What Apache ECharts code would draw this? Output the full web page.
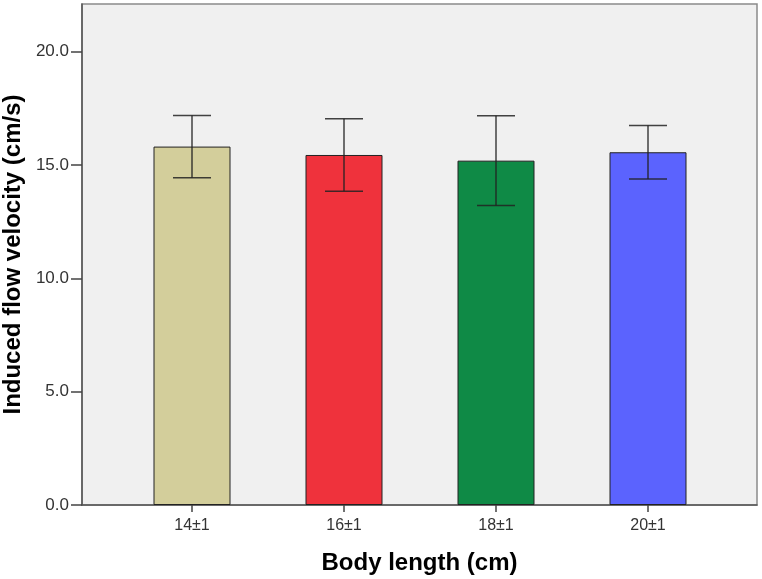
<!DOCTYPE html>
<html>
<head>
<meta charset="utf-8">
<script src="https://cdn.jsdelivr.net/npm/echarts@6/dist/echarts.min.js"></script>
<style>
html, body { margin: 0; padding: 0; background: #fff; }
#chart { width: 762px; height: 579px; }
</style>
</head>
<body>
<div id="chart"></div>
<script>
// data
var categories = ['14±1', '16±1', '18±1', '20±1']
var means = [15.81, 15.44, 15.19, 15.56]
var errors = [1.37, 1.60, 1.98, 1.18]
var barColors = ['#d3ce9b', '#ef323c', '#0f8a46', '#5b63fe']
var yTicks = [0, 5, 10, 15, 20]

var chart = echarts.init(document.getElementById('chart'))
var font = 'Liberation Sans, Arial, sans-serif'

chart.setOption({
	animation: false,
	grid: [
		// frame (background + y axis)
		{ left: 82, right: 5, top: 4, bottom: 74, outerBoundsMode: 'none', show: true, backgroundColor: '#f0f0f0', borderColor: '#8a8a8a', borderWidth: 1.5 },
		// bars
		{ left: 116, right: 38, top: 4, bottom: 74, outerBoundsMode: 'none' }
	],
	xAxis: [
		{
			gridIndex: 0, type: 'value', min: 0, max: 1,
			axisLine: { show: true, lineStyle: { color: '#555', width: 1.5 } },
			axisTick: { show: false }, axisLabel: { show: false }, splitLine: { show: false },
			name: 'Body length (cm)', nameLocation: 'middle', nameGap: 46,
			nameTextStyle: { fontFamily: font, fontSize: 24, fontWeight: 'bold', color: '#000' }
		},
		{
			gridIndex: 1, type: 'category', data: categories,
			axisLine: { show: false },
			axisTick: { show: true, alignWithLabel: true, length: 7, lineStyle: { color: '#444', width: 1.5 } },
			axisLabel: { fontFamily: font, fontSize: 16, color: '#333', margin: 13 }
		}
	],
	yAxis: [
		{
			gridIndex: 0, type: 'value', min: 0, max: 22.1,
			axisLine: { show: true, lineStyle: { color: '#555', width: 1.5 } },
			axisTick: { show: true, length: 11, customValues: yTicks, lineStyle: { color: '#444', width: 1.5 } },
			axisLabel: {
				fontFamily: font, fontSize: 17, color: '#333', margin: 13, customValues: yTicks,
				formatter: function (v) { return v.toFixed(1) }
			},
			splitLine: { show: false },
			name: 'Induced flow velocity (cm/s)', nameLocation: 'middle', nameGap: 57,
			nameTextStyle: { fontFamily: font, fontSize: 24, fontWeight: 'bold', color: '#000' }
		},
		{
			gridIndex: 1, type: 'value', min: 0, max: 22.1, show: false
		}
	],
	series: [
		{
			type: 'bar', xAxisIndex: 1, yAxisIndex: 1, barWidth: 77,
			data: means.map(function (v, i) {
				return { value: v, itemStyle: { color: barColors[i], borderColor: '#222', borderWidth: 1 } }
			})
		},
		{
			type: 'custom', xAxisIndex: 1, yAxisIndex: 1, z: 5,
			data: means.map(function (v, i) { return [i, v - errors[i], v + errors[i]] }),
			renderItem: function (params, api) {
				var lo = api.coord([api.value(0), api.value(1)])
				var hi = api.coord([api.value(0), api.value(2)])
				var half = 19
				var style = { stroke: '#222', lineWidth: 1.5, opacity: 0.85 }
				return {
					type: 'group',
					children: [
						{ type: 'line', shape: { x1: hi[0], y1: hi[1], x2: lo[0], y2: lo[1] }, style: style },
						{ type: 'line', shape: { x1: hi[0] - half, y1: hi[1], x2: hi[0] + half, y2: hi[1] }, style: style },
						{ type: 'line', shape: { x1: lo[0] - half, y1: lo[1], x2: lo[0] + half, y2: lo[1] }, style: style }
					]
				}
			}
		}
	]
})
</script>
</body>
</html>
